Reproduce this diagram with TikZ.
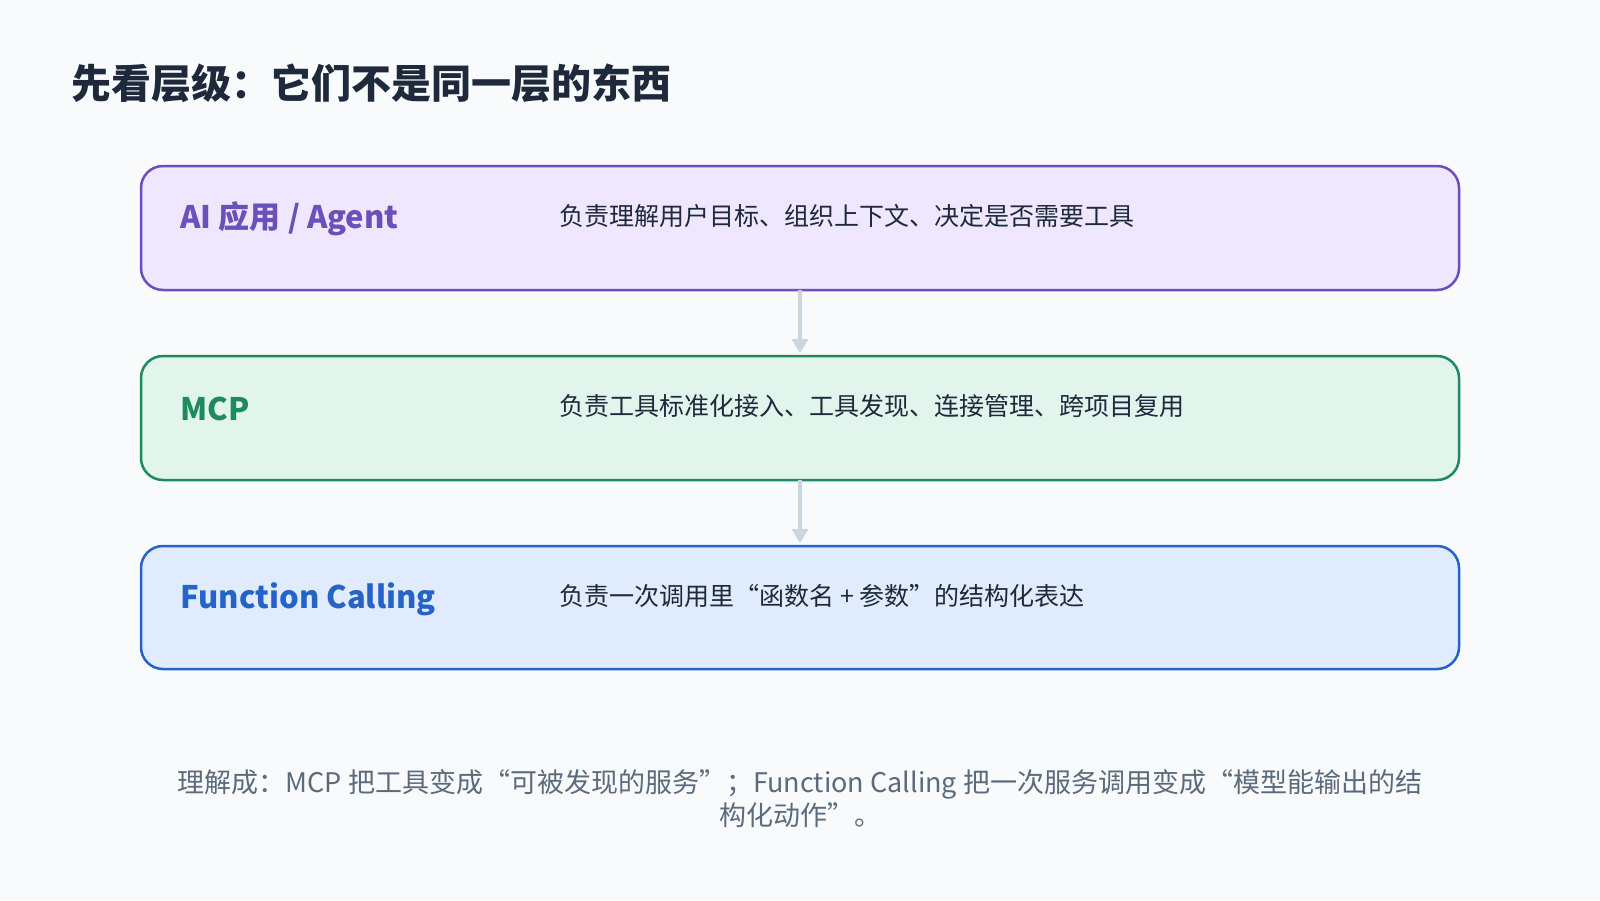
\documentclass[tikz,border=0pt]{standalone}
\usepackage{fontspec}
\setmainfont{Noto Sans CJK SC}
\usetikzlibrary{arrows.meta}
\definecolor{bg}{HTML}{F8FAFC}
\definecolor{ink}{HTML}{1E293B}
\definecolor{pB}{HTML}{6B4FBB}\definecolor{pF}{HTML}{EEE7FE}
\definecolor{gB}{HTML}{1F8A5E}\definecolor{gF}{HTML}{E2F5EC}
\definecolor{bB}{HTML}{2563C9}\definecolor{bF}{HTML}{E0ECFE}
\definecolor{arr}{HTML}{CBD5E1}
\definecolor{note}{HTML}{5B6B7D}
\begin{document}
\begin{tikzpicture}[x=1pt,y=-1pt,
  box/.style={draw,line width=2.5pt,rounded corners=22pt},
  lab/.style={anchor=west,font=\fontsize{31}{36}\selectfont\bfseries},
  desc/.style={anchor=west,text=ink,font=\fontsize{25}{28}\selectfont},
  con/.style={draw=arr,line width=4pt,-{Triangle[width=16pt,length=14pt]}}]
\fill[bg] (0,0) rectangle (1600,900);
\useasboundingbox (0,0) rectangle (1600,900);
\node[anchor=west,text=ink,font=\fontsize{40}{44}\selectfont\bfseries] (title) at (68,83) {先看层级：它们不是同一层的东西};
\path[box,draw=pB,fill=pF] (141,166) rectangle (1459,290);
\path[box,draw=gB,fill=gF] (141,356) rectangle (1459,480);
\path[box,draw=bB,fill=bF] (141,546) rectangle (1459,669);
\coordinate (b1) at (800,290);\coordinate (t2) at (800,353);
\coordinate (b2) at (800,480);\coordinate (t3) at (800,543);
\node[lab,text=pB] (l1) at (177,219) {AI 应用 / Agent};
\node[lab,text=gB] (l2) at (177,409) {MCP};
\node[lab,text=bB] (l3) at (177,599) {Function Calling};
\node[desc] (d1) at (556,216) {负责理解用户目标、组织上下文、决定是否需要工具};
\node[desc] (d2) at (556,406) {负责工具标准化接入、工具发现、连接管理、跨项目复用};
\node[desc] (d3) at (556,596) {负责一次调用里“函数名 + 参数”的结构化表达};
\draw[con] (b1) -- (t2);
\draw[con] (b2) -- (t3);
\node[text=note,align=center,font=\fontsize{27}{33}\selectfont] (n) at (800,799) {理解成：MCP 把工具变成“可被发现的服务”；Function Calling 把一次服务调用变成“模型能输出的结\\构化动作”。};
\end{tikzpicture}
\end{document}
